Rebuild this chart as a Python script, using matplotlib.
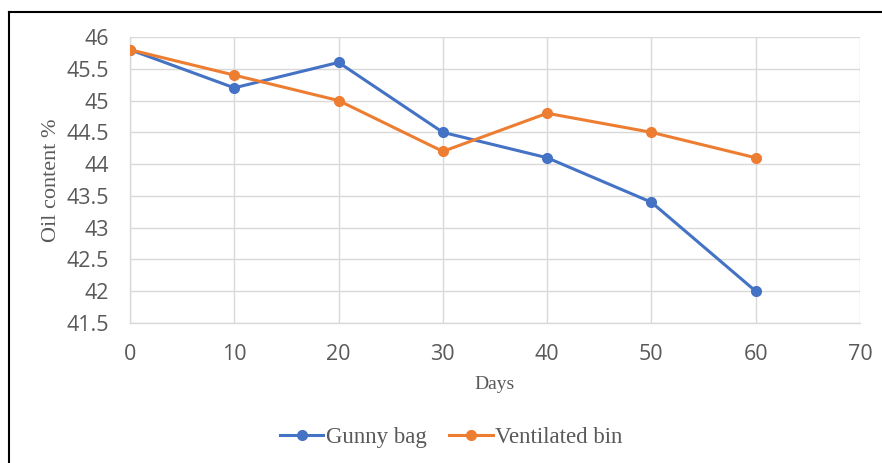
import matplotlib
matplotlib.use("Agg")
import matplotlib.pyplot as plt
from matplotlib.lines import Line2D

# data
days = [0, 10, 20, 30, 40, 50, 60]
gunny_bag = [45.8, 45.2, 45.6, 44.5, 44.1, 43.4, 42.0]
ventilated_bin = [45.8, 45.4, 45.0, 44.2, 44.8, 44.5, 44.1]
x_ticks = [0, 10, 20, 30, 40, 50, 60, 70]
y_ticks = [41.5, 42, 42.5, 43, 43.5, 44, 44.5, 45, 45.5, 46]

W, H = 882, 463
fig = plt.figure(figsize=(W / 100, H / 100), dpi=100)
ax = fig.add_axes([130 / W, 1 - 323 / H, 730 / W, 286 / H])

ax.plot(days, gunny_bag, color="#4472C4", lw=2.2, marker="o", ms=7, label="Gunny bag", zorder=3)
ax.plot(days, ventilated_bin, color="#ED7D31", lw=2.2, marker="o", ms=7, label="Ventilated bin", zorder=3)

ax.set_xlim(0, 70)
ax.set_ylim(41.5, 46)
ax.set_xticks(x_ticks)
ax.set_yticks(y_ticks)
ax.set_yticklabels([("%g" % v) for v in y_ticks])
ax.grid(True, color="#D9D9D9", lw=1)
ax.set_axisbelow(True)
for s in ["top", "right"]:
    ax.spines[s].set_visible(False)
for s in ["left", "bottom"]:
    ax.spines[s].set_color("#D9D9D9")
    ax.spines[s].set_linewidth(1)
ax.tick_params(length=0, labelsize=15.5, labelcolor="#595959", labelfontfamily="Open Sans")
ax.tick_params(axis="x", pad=15)
ax.tick_params(axis="y", pad=15)

ax.set_ylabel("Oil content %", family="Liberation Serif", fontsize=16, color="#595959", labelpad=4)
ax.set_xlabel("Days", family="Liberation Serif", fontsize=14, color="#595959", labelpad=8)

leg = ax.legend(loc="center", bbox_to_anchor=(0.44, -0.40), ncol=2, frameon=False,
                prop={"family": "Liberation Serif", "size": 16.5}, handlelength=1.9,
                columnspacing=1.0, handletextpad=0.1)
for t in leg.get_texts():
    t.set_color("#595959")

# outer border (only left and top visible in the crop)
fig.add_artist(Line2D([8.5 / W, 8.5 / W], [0, 1 - 11.5 / H], color="black", lw=1.5, transform=fig.transFigure))
fig.add_artist(Line2D([8.5 / W, 1], [1 - 11.5 / H, 1 - 11.5 / H], color="black", lw=1.5, transform=fig.transFigure))

fig.savefig("out.png", dpi=100)
